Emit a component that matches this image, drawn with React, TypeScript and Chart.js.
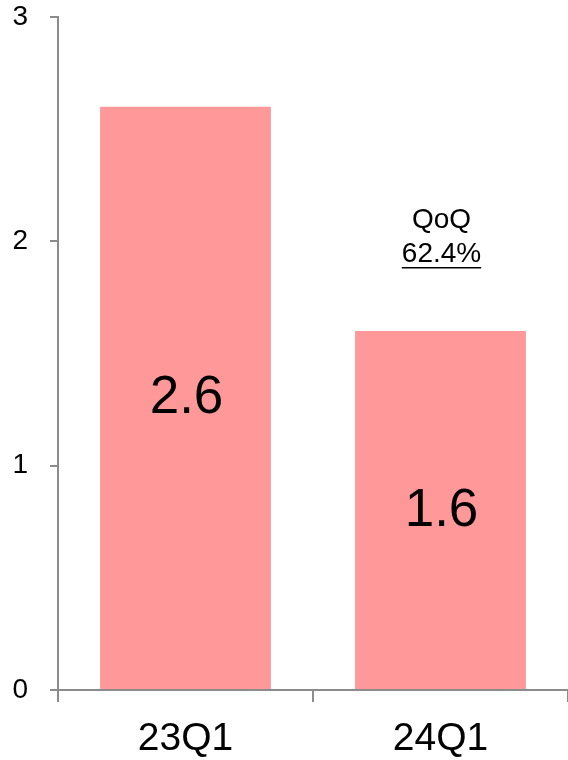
import React, { useEffect, useRef } from "react";
import { Chart, registerables } from "chart.js";

Chart.register(...registerables);

const categories = ["23Q1", "24Q1"];
const values = [2.6, 1.6];
const yTicks = [0, 1, 2, 3];
const noteLines = ["QoQ", "62.4%"];

const FONT = "'Liberation Sans', Arial, sans-serif";
const AXIS = "#8c8c8c";

const labelPlugin = {
  id: "labels",
  afterDatasetsDraw(chart: any) {
    const ctx = chart.ctx;
    const meta = chart.getDatasetMeta(0);
    const ys = chart.scales.y;
    ctx.save();
    ctx.fillStyle = "#000";
    ctx.textAlign = "center";
    ctx.textBaseline = "middle";
    ctx.font = `53px ${FONT}`;
    meta.data.forEach((bar: any, i: number) => {
      const mid = (bar.y + bar.base) / 2;
      ctx.fillText(String(values[i]), bar.x + 1, mid + 1);
    });
    // annotation above second bar
    const b = meta.data[1];
    const cy = ys.getPixelForValue(2.02);
    ctx.font = `28px ${FONT}`;
    ctx.fillText(noteLines[0], b.x + 1, cy - 17);
    ctx.fillText(noteLines[1], b.x + 1, cy + 17);
    const w = ctx.measureText(noteLines[1]).width;
    ctx.strokeStyle = "#000";
    ctx.lineWidth = 1.5;
    ctx.beginPath();
    ctx.moveTo(b.x + 1 - w / 2, cy + 31);
    ctx.lineTo(b.x + 1 + w / 2, cy + 31);
    ctx.stroke();
    ctx.restore();
  },
};

export default function App() {
  const ref = useRef<HTMLCanvasElement>(null);
  useEffect(() => {
    if (!ref.current) return;
    const chart = new Chart(ref.current, {
      type: "bar",
      data: {
        labels: categories,
        datasets: [
          {
            data: values,
            backgroundColor: "#ff9999",
            barPercentage: 0.67,
            categoryPercentage: 1,
          },
        ],
      },
      options: {
        responsive: false,
        animation: false,
        devicePixelRatio: 1,
        layout: { padding: { top: 17, right: 0, left: 0, bottom: 0 } },
        plugins: { legend: { display: false }, tooltip: { enabled: false } },
        scales: {
          x: {
            grid: {
              drawOnChartArea: false,
              drawTicks: true,
              tickLength: 12,
              color: AXIS,
              lineWidth: 2,
              offset: true,
            },
            border: { color: AXIS, width: 2 },
            ticks: {
              color: "#000",
              font: { family: FONT, size: 39 },
              padding: 14,
            },
            afterFit(s: any) {
              s.height = 70;
              s.paddingLeft = 0;
              s.paddingRight = 0;
            },
          },
          y: {
            min: 0,
            max: 3,
            afterBuildTicks(s: any) {
              s.ticks = yTicks.map((v) => ({ value: v }));
            },
            grid: {
              drawOnChartArea: false,
              drawTicks: true,
              tickLength: 8,
              color: AXIS,
              lineWidth: 2,
            },
            border: { color: AXIS, width: 2 },
            ticks: {
              color: "#000",
              font: { family: FONT, size: 28 },
              padding: 22,
            },
            afterFit(s: any) {
              s.width = 58;
              s.paddingTop = 0;
              s.paddingBottom = 0;
            },
          },
        },
      },
      plugins: [labelPlugin],
    });
    return () => chart.destroy();
  }, []);
  return (
    <div style={{ position: "absolute", left: 0, top: 0, width: 568, height: 760, background: "#fff" }}>
      <canvas ref={ref} width={568} height={760} />
    </div>
  );
}
